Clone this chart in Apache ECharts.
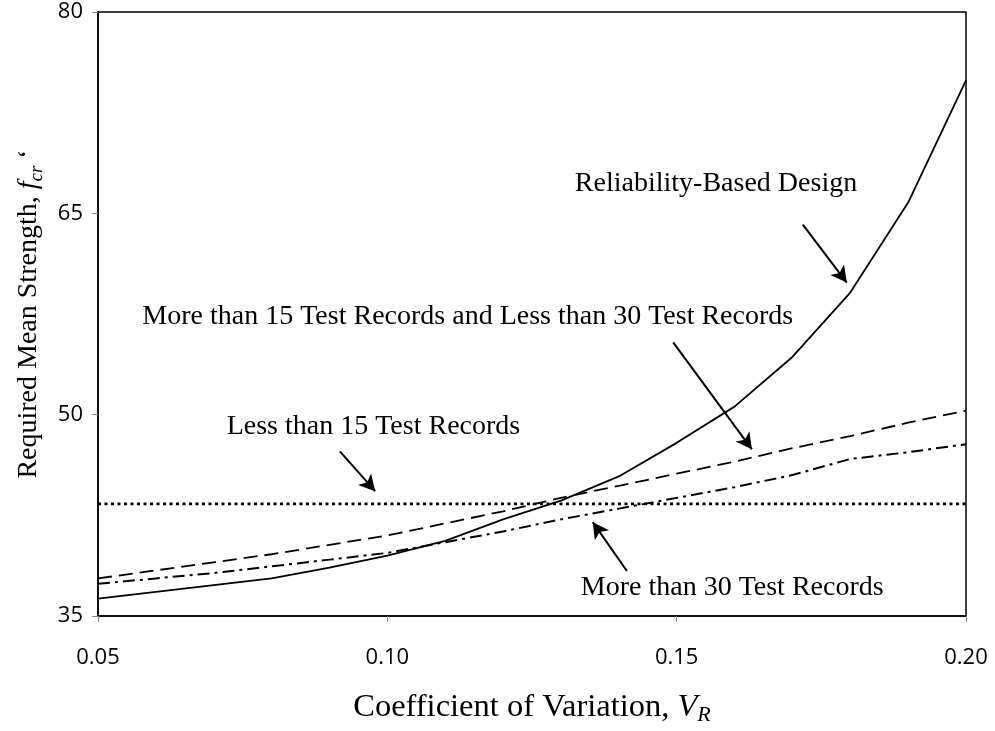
<!DOCTYPE html>
<html>
<head>
<meta charset="utf-8">
<script src="https://cdn.jsdelivr.net/npm/echarts@6/dist/echarts.min.js"></script>
<style>
html,body{margin:0;padding:0;background:#fff;}
#chart{width:995px;height:731px;}
</style>
</head>
<body>
<div id="chart"></div>
<script>
// ---- data ----
const cov = [0.05, 0.06, 0.07, 0.08, 0.09, 0.10, 0.11, 0.12, 0.13, 0.14, 0.15, 0.16, 0.17, 0.18, 0.19, 0.20];
const reliabilityBased = [36.3, 36.8, 37.3, 37.8, 38.6, 39.5, 40.6, 42.2, 43.6, 45.4, 47.9, 50.6, 54.3, 59.1, 65.8, 74.9];
const between15and30 = [37.8, 38.4, 39.0, 39.6, 40.3, 41.0, 41.9, 42.8, 43.8, 44.7, 45.6, 46.5, 47.5, 48.4, 49.4, 50.3];
const moreThan30 = [37.4, 37.8, 38.2, 38.7, 39.2, 39.7, 40.5, 41.3, 42.2, 43.0, 43.8, 44.6, 45.5, 46.7, 47.2, 47.8];
const lessThan15X = [0.05, 0.20];
const lessThan15 = [43.35, 43.35];
const xTicks = [0.05, 0.10, 0.15, 0.20];
const yTicks = [35, 50, 65, 80];

// annotation labels and arrows (data coordinates)
const annotations = [
  {text: 'Reliability-Based Design', at: [0.1568, 67.2], from: [0.1718, 64.16], to: [0.1794, 59.84]},
  {text: 'More than 15 Test Records and Less than 30 Test Records', at: [0.1139, 57.3], from: [0.1494, 55.38], to: [0.1630, 47.42]},
  {text: 'Less than 15 Test Records', at: [0.0976, 49.1], from: [0.0918, 47.27], to: [0.0979, 44.30]},
  {text: 'More than 30 Test Records', at: [0.1596, 37.1], from: [0.1414, 38.35], to: [0.1355, 41.99]}
];

const zip = (xs, ys) => xs.map((x, i) => [x, ys[i]]);
const serif = '"Liberation Serif", "Times New Roman", serif';

const chart = echarts.init(document.getElementById('chart'));
const option = {
  animation: false,
  backgroundColor: '#fff',
  grid: {left: 98, top: 12, right: 29, bottom: 114, show: true, borderColor: '#000', borderWidth: 1.5, backgroundColor: 'transparent'},
  xAxis: {
    type: 'value', min: xTicks[0], max: xTicks[xTicks.length - 1], interval: 0.05,
    axisLine: {show: true, lineStyle: {color: '#000', width: 1.5}},
    axisTick: {show: true, length: 6, lineStyle: {color: '#888'}},
    splitLine: {show: false},
    axisLabel: {margin: 31, fontFamily: '"Open Sans", sans-serif', fontSize: 22, color: '#000', formatter: v => v.toFixed(2)},
    name: '{n|Coefficient of Variation, }{i|V}{s|R}',
    nameLocation: 'middle', nameGap: 72,
    nameTextStyle: {
      rich: {
        n: {fontFamily: serif, fontSize: 32.5, color: '#000', lineHeight: 38, verticalAlign: 'middle'},
        i: {fontFamily: serif, fontSize: 32.5, fontStyle: 'italic', color: '#000', lineHeight: 38, verticalAlign: 'middle'},
        s: {fontFamily: serif, fontSize: 22, fontStyle: 'italic', color: '#000', lineHeight: 22, verticalAlign: 'bottom'}
      }
    }
  },
  yAxis: {
    type: 'value', min: yTicks[0], max: yTicks[yTicks.length - 1], interval: 15,
    axisLine: {show: true, lineStyle: {color: '#000', width: 1.5}},
    axisTick: {show: true, length: 6, lineStyle: {color: '#888'}},
    splitLine: {show: false},
    axisLabel: {margin: 15, fontFamily: '"Open Sans", sans-serif', fontSize: 22, color: '#000'},
    name: '{n|Required Mean Strength, }{i|f}{s|cr}{n| ‘}',
    nameLocation: 'middle', nameGap: 52, nameRotate: 90,
    nameTextStyle: {
      rich: {
        n: {fontFamily: serif, fontSize: 28, color: '#000', lineHeight: 34, verticalAlign: 'middle'},
        i: {fontFamily: serif, fontSize: 28, fontStyle: 'italic', color: '#000', lineHeight: 34, verticalAlign: 'middle'},
        s: {fontFamily: serif, fontSize: 19, fontStyle: 'italic', color: '#000', lineHeight: 20, verticalAlign: 'bottom'}
      }
    }
  },
  series: [
    {name: 'Reliability-Based Design', type: 'line', data: zip(cov, reliabilityBased), showSymbol: false,
     lineStyle: {color: '#000', width: 1.8, type: 'solid'}, z: 3,
     markLine: {
       silent: true, symbol: ['none', 'arrow'], symbolSize: [13, 16],
       label: {show: false},
       lineStyle: {color: '#000', width: 2, type: 'solid'},
       data: annotations.map(a => [{coord: a.from}, {coord: a.to}])
     }},
    {name: 'More than 15 and Less than 30', type: 'line', data: zip(cov, between15and30), showSymbol: false,
     lineStyle: {color: '#000', width: 1.8, type: [14, 7]}},
    {name: 'More than 30', type: 'line', data: zip(cov, moreThan30), showSymbol: false,
     lineStyle: {color: '#000', width: 2, type: [12, 5, 3, 5]}},
    {name: 'Less than 15', type: 'line', data: zip(lessThan15X, lessThan15), showSymbol: false,
     lineStyle: {color: '#000', width: 2.8, type: [3, 3.5]}}
  ]
};
chart.setOption(option);

// place annotation text using the chart's own coordinate conversion
const g = annotations.map(a => {
  const p = chart.convertToPixel({gridIndex: 0}, a.at);
  return {type: 'text', x: p[0], y: p[1], silent: true,
    style: {text: a.text, font: '28px ' + serif, fill: '#000', textAlign: 'center', textVerticalAlign: 'middle'}};
});
chart.setOption({graphic: g});
</script>
</body>
</html>
